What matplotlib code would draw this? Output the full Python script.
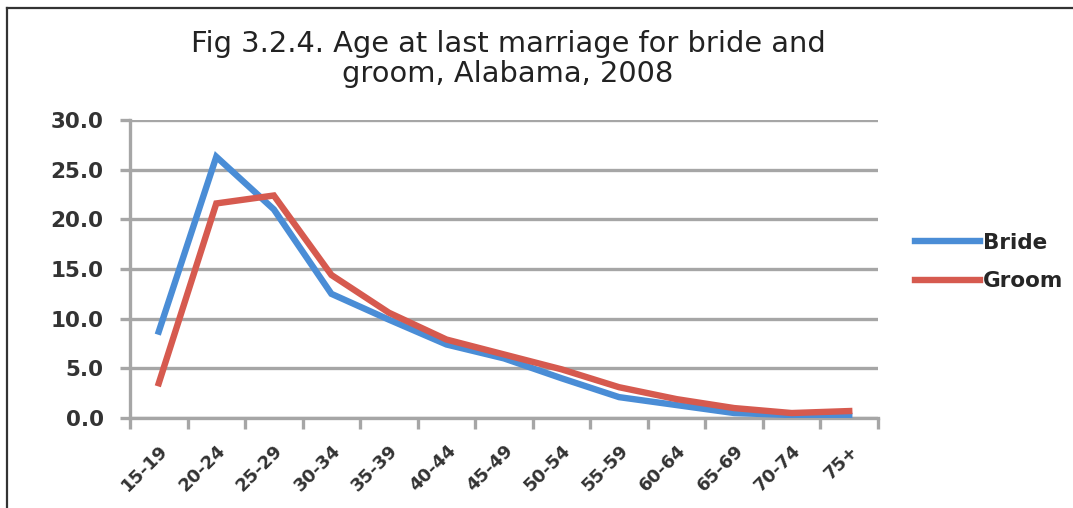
import matplotlib
matplotlib.use("Agg")
import matplotlib.pyplot as plt
from matplotlib.lines import Line2D
import numpy as np

age_groups = ["15-19", "20-24", "25-29", "30-34", "35-39", "40-44", "45-49",
              "50-54", "55-59", "60-64", "65-69", "70-74", "75+"]
bride = [8.7, 26.3, 21.0, 12.5, 9.9, 7.4, 6.0, 4.0, 2.1, 1.3, 0.5, 0.3, 0.2]
groom = [3.5, 21.6, 22.4, 14.4, 10.6, 7.9, 6.4, 4.9, 3.1, 1.9, 1.0, 0.5, 0.7]
series_names = ["Bride", "Groom"]
y_ticks = [0, 5, 10, 15, 20, 25, 30]
title = "Fig 3.2.4. Age at last marriage for bride and\ngroom, Alabama, 2008"

plt.rcParams["font.family"] = ["DejaVu Sans"]

W, H = 1073, 508
BLUE, RED = "#4A8DD6", "#D65A4F"
GRID = "#A6A6A6"
TEXT = "#333333"

fig = plt.figure(figsize=(W / 100, H / 100), dpi=100)
fig.patch.set_facecolor("white")

ax = fig.add_axes([130 / W, 1 - 418 / H, (878 - 130) / W, (418 - 120) / H])
x = np.arange(len(age_groups))

ax.plot(x, bride, color=BLUE, lw=4.6, solid_joinstyle="miter", zorder=3)
ax.plot(x, groom, color=RED, lw=4.6, solid_joinstyle="miter", zorder=4)

ax.set_xlim(-0.5, len(age_groups) - 0.5)
ax.set_ylim(0, 30)

ax.set_yticks(y_ticks)
ax.set_yticklabels([f"{v:.1f}" for v in y_ticks], fontsize=15.5,
                   fontweight="bold", color=TEXT)
for v in y_ticks:
    ax.axhline(v, color=GRID, lw=2.4, zorder=1)
ax.tick_params(axis="y", length=7, width=2.4, color=GRID, pad=12)

ax.set_xticks(np.arange(len(age_groups) + 1) - 0.5)
ax.set_xticklabels([])
ax.set_xticks(x, minor=True)
ax.set_xticklabels(age_groups, minor=True, rotation=45, ha="right",
                   rotation_mode="anchor", fontsize=13, fontweight="bold",
                   color=TEXT)
ax.tick_params(axis="x", which="major", length=8, width=2.4, color=GRID)
ax.tick_params(axis="x", which="minor", length=0, pad=17)

for side in ["top", "right"]:
    ax.spines[side].set_visible(False)
for side in ["left", "bottom"]:
    ax.spines[side].set_color(GRID)
    ax.spines[side].set_linewidth(2.4)

fig.text(508 / W, 1 - 59 / H, title, ha="center", va="center",
         fontsize=20.8, color="#222222", linespacing=1.1)

handles = [Line2D([], [], color=BLUE, lw=4.6),
           Line2D([], [], color=RED, lw=4.6)]
fig.legend(handles, series_names, loc="center left",
           bbox_to_anchor=(915 / W, 1 - 262 / H), frameon=False,
           borderpad=0, borderaxespad=0,
           handlelength=3.0, handletextpad=0.15, labelspacing=0.85,
           prop={"size": 15.5, "weight": "bold"}, labelcolor="#262626")

# page frame
fig.add_artist(Line2D([7 / W, 1], [1 - 8 / H, 1 - 8 / H], color="#333333",
                      lw=1.6, transform=fig.transFigure))
fig.add_artist(Line2D([7 / W, 7 / W], [0, 1 - 8 / H], color="#333333",
                      lw=1.6, transform=fig.transFigure))

fig.savefig("out.png", dpi=100, facecolor="white")
